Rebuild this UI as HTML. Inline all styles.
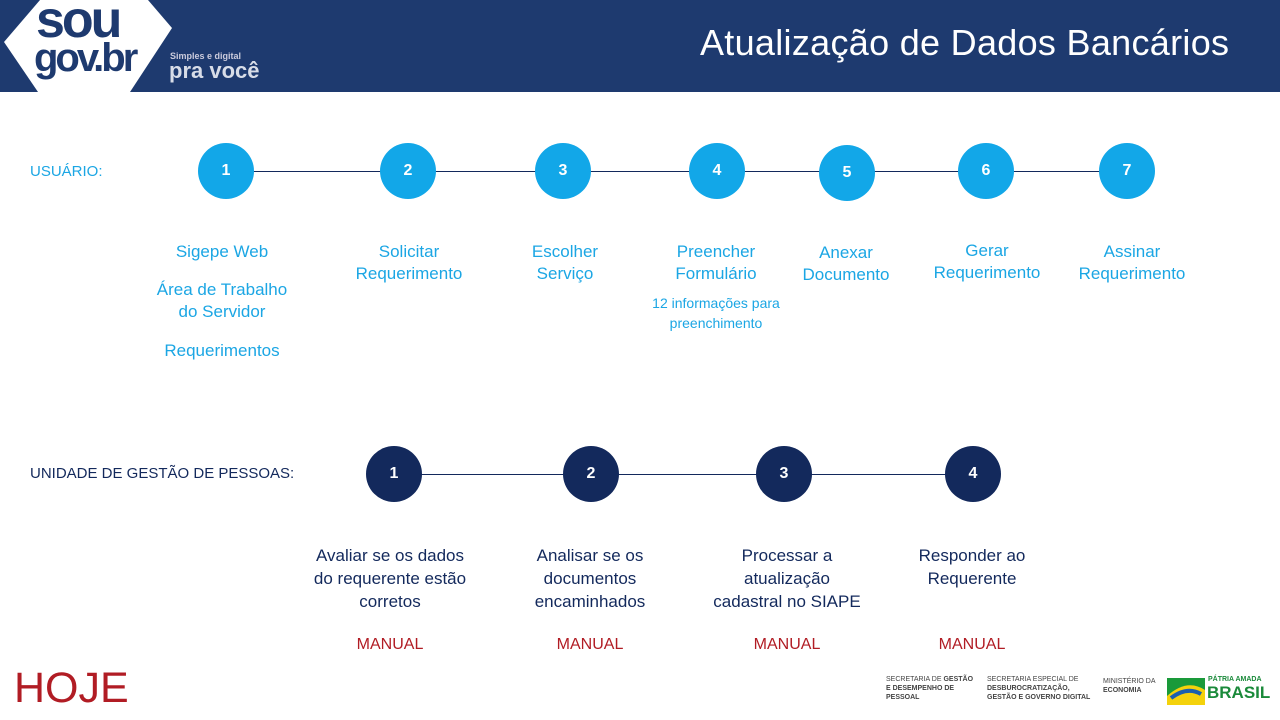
<!DOCTYPE html>
<html><head><meta charset="utf-8"><style>
body{margin:0;width:1280px;height:720px;position:relative;overflow:hidden;background:#fff;font-family:"Liberation Sans",sans-serif}
.hdr{position:absolute;left:0;top:0;width:1280px;height:92px;background:#1e3a6f}
.t{position:absolute;white-space:nowrap}
.c{position:absolute;width:56px;height:56px;border-radius:50%;color:#fff;font-size:16px;font-weight:bold;text-align:center;line-height:56px}
.lb{background:#12a7e8}.db{background:#13295c}
.lbl{position:absolute;text-align:center;font-size:17px;line-height:22px;color:#1ba6e4;transform:translateX(-50%);white-space:nowrap}
.dl{color:#13295c}
.red{color:#b11c24;font-size:16px}
.line{position:absolute;height:1px;background:#13295c}
.sm{position:absolute;font-size:7px;line-height:9px;color:#444}
</style></head><body>
<div class="hdr"></div>
<svg style="position:absolute;left:0;top:0" width="180" height="92"><polygon points="4,42 40,0 148,0 172,28 130,92 38,92" fill="#fff"/></svg>
<div class="t" style="left:36px;top:-10px;font-size:52px;font-weight:bold;color:#1e3a6f;letter-spacing:-3px">sou</div>
<div class="t" style="left:34px;top:36px;font-size:40px;font-weight:bold;color:#1e3a6f;letter-spacing:-3px">gov.br</div>
<div class="t" style="left:170px;top:51px;font-size:9px;font-weight:bold;color:#ccd">Simples e digital</div>
<div class="t" style="left:169px;top:58px;font-size:22px;font-weight:bold;color:#d8dde8">pra você</div>
<div class="t" style="left:700px;top:22px;font-size:36px;color:#fff;letter-spacing:0.3px">Atualização de Dados Bancários</div>

<div class="t" style="left:30px;top:163px;font-size:15px;color:#1ba6e4">USUÁRIO:</div>
<div class="line" style="left:226px;top:171px;width:900px"></div>
<div class="c lb" style="left:198px;top:143px">1</div>
<div class="c lb" style="left:380px;top:143px">2</div>
<div class="c lb" style="left:535px;top:143px">3</div>
<div class="c lb" style="left:689px;top:143px">4</div>
<div class="c lb" style="left:819px;top:145px">5</div>
<div class="c lb" style="left:958px;top:143px">6</div>
<div class="c lb" style="left:1099px;top:143px">7</div>

<div class="lbl" style="left:222px;top:241px">Sigepe Web</div>
<div class="lbl" style="left:222px;top:279px">Área de Trabalho<br>do Servidor</div>
<div class="lbl" style="left:222px;top:340px">Requerimentos</div>
<div class="lbl" style="left:409px;top:241px">Solicitar<br>Requerimento</div>
<div class="lbl" style="left:565px;top:241px">Escolher<br>Serviço</div>
<div class="lbl" style="left:716px;top:241px">Preencher<br>Formulário</div>
<div class="lbl" style="left:716px;top:293px;font-size:14px;line-height:20px">12 informações para<br>preenchimento</div>
<div class="lbl" style="left:846px;top:242px">Anexar<br>Documento</div>
<div class="lbl" style="left:987px;top:240px">Gerar<br>Requerimento</div>
<div class="lbl" style="left:1132px;top:241px">Assinar<br>Requerimento</div>

<div class="t" style="left:30px;top:465px;font-size:15px;color:#13295c">UNIDADE DE GESTÃO DE PESSOAS:</div>
<div class="line" style="left:394px;top:474px;width:580px"></div>
<div class="c db" style="left:366px;top:446px">1</div>
<div class="c db" style="left:563px;top:446px">2</div>
<div class="c db" style="left:756px;top:446px">3</div>
<div class="c db" style="left:945px;top:446px">4</div>

<div class="lbl dl" style="left:390px;top:544px;line-height:23px">Avaliar se os dados<br>do requerente estão<br>corretos</div>
<div class="lbl dl" style="left:590px;top:544px;line-height:23px">Analisar se os<br>documentos<br>encaminhados</div>
<div class="lbl dl" style="left:787px;top:544px;line-height:23px">Processar a<br>atualização<br>cadastral no SIAPE</div>
<div class="lbl dl" style="left:972px;top:544px;line-height:23px">Responder ao<br>Requerente</div>
<div class="lbl red" style="left:390px;top:634px">MANUAL</div>
<div class="lbl red" style="left:590px;top:634px">MANUAL</div>
<div class="lbl red" style="left:787px;top:634px">MANUAL</div>
<div class="lbl red" style="left:972px;top:634px">MANUAL</div>

<div class="t" style="left:14px;top:664px;font-size:43px;color:#b11c24">HOJE</div>

<div class="sm" style="left:886px;top:675px">SECRETARIA DE <b>GESTÃO<br>E DESEMPENHO DE<br>PESSOAL</b></div>
<div class="sm" style="left:987px;top:675px">SECRETARIA ESPECIAL DE<br><b>DESBUROCRATIZAÇÃO,<br>GESTÃO E GOVERNO DIGITAL</b></div>
<div class="sm" style="left:1103px;top:677px">MINISTÉRIO DA<br><b>ECONOMIA</b></div>
<svg style="position:absolute;left:1167px;top:678px" width="38" height="27"><rect width="38" height="27" fill="#1a9a3a"/><path d="M0,18 Q20,0 38,12 L38,27 L0,27Z" fill="#f4d20c"/><path d="M4,20 Q20,8 34,16" stroke="#1a5fb0" stroke-width="4" fill="none"/></svg>
<div class="t" style="left:1208px;top:676px;font-size:7px;font-weight:bold;color:#1a8a3a">PÁTRIA AMADA</div>
<div class="t" style="left:1207px;top:683px;font-size:17px;font-weight:bold;color:#1a8a3a">BRASIL</div>
</body></html>
